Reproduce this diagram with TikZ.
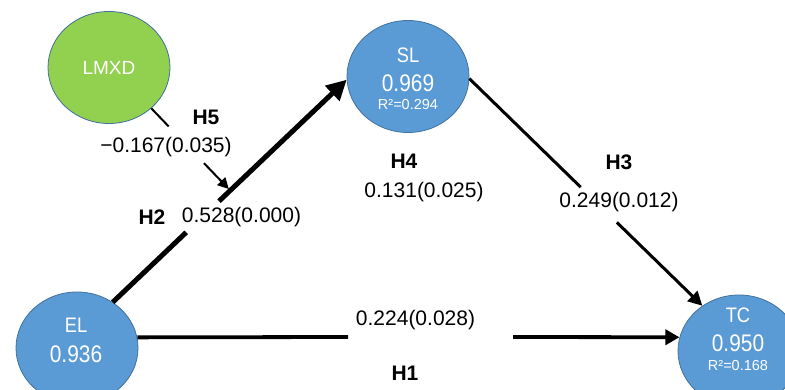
\documentclass[tikz,border=0pt]{standalone}
\usepackage{fontspec}
\setmainfont{Liberation Sans}
\newfontfamily\circfont[FakeStretch=0.87]{Liberation Sans}
\usetikzlibrary{arrows.meta,calc,shapes.geometric}
\definecolor{nodeblue}{HTML}{5B9BD5}
\definecolor{nodegreen}{HTML}{92D050}
\definecolor{rimblue}{HTML}{41719C}

\begin{document}
\begin{tikzpicture}[x=1pt,y=-1pt,
  construct/.style={ellipse, draw=rimblue, line width=0.8pt, fill=nodeblue,
    minimum width=122pt, minimum height=112pt, inner sep=0pt},
  cname/.style={anchor=base, text=white, inner sep=0pt,
    font=\circfont\fontsize{21}{24}\selectfont},
  cval/.style={anchor=base, text=white, inner sep=0pt,
    font=\circfont\fontsize{24}{28}\selectfont},
  rsq/.style={anchor=base, text=white, inner sep=0pt,
    font=\fontsize{14.5}{17}\selectfont},
  hyp/.style={anchor=base, inner sep=0pt, font=\bfseries\fontsize{21}{25}\selectfont},
  coef/.style={anchor=base, inner sep=0pt, font=\fontsize{21}{25}\selectfont},
  pathH2/.style={line width=5pt},
  pathH1/.style={line width=3.8pt},
  pathH3/.style={line width=3pt},
  pathH5/.style={line width=2pt},
]
\useasboundingbox (0,0) rectangle (785,390);

% constructs
\node[construct, fill=nodegreen] (LMXD) at (109,67.5) {};
\node[construct] (SL) at (408,76.5) {};
\node[construct] (EL) at (77,348) {};
\node[construct] (TC) at (739,351) {};

% texts inside the constructs
\node[cname, font=\fontsize{19}{22}\selectfont] (tLMXD) at (109,75) {LMXD};
\node[cname] (tSL) at (408,63) {SL};
\node[cval] (vSL) at (408,92) {0.969};
\node[rsq] (rSL) at (408,110) {R²=0.294};
\node[cname] (tEL) at (76,333) {EL};
\node[cval] (vEL) at (76,362) {0.936};
\node[cname] (tTC) at (738,323) {TC};
\node[cval] (vTC) at (738,352) {0.950};
\node[rsq] (rTC) at (738,370) {R²=0.168};

% gap points of the interrupted paths
\coordinate (h2a) at ($(EL.52)!0.314!(SL.183)$);
\coordinate (h2b) at ($(EL.52)!0.454!(SL.183)$);
\coordinate (h5tip) at ($(EL.52)!0.502!(SL.183)$);
\coordinate (h5a) at ($(LMXD.-44)!0.22!(h5tip)$);
\coordinate (h5b) at ($(LMXD.-44)!0.667!(h5tip)$);
\coordinate (h3a) at ($(SL.-2)!0.478!(TC.129)$);
\coordinate (h3b) at ($(SL.-2)!0.633!(TC.129)$);
\coordinate (h1a) at (348,337);
\coordinate (h1b) at (513,337);

% H2: EL -> SL
\draw[pathH2] (EL.52) -- (h2a);
\draw[pathH2, -{Triangle[length=20pt,width=20pt]}] (h2b) -- (SL.183);
% H3: SL -> TC
\draw[pathH3] (SL.-2) -- (h3a);
\draw[pathH3, -{Triangle[length=14pt,width=14pt]}] (h3b) -- (TC.129);
% H1: EL -> TC
\draw[pathH1] (EL.10) -- (h1a);
\draw[pathH1, -{Triangle[length=14pt,width=15pt]}] (h1b) -- (TC.167);
% H5: moderation of H2 by LMXD
\draw[pathH5] (LMXD.-44) -- (h5a);
\draw[pathH5, -{Triangle[length=11pt,width=11pt]}, shorten >=2pt] (h5b) -- (h5tip);

% hypothesis labels and coefficients
\node[hyp] (lH5) at (206,125) {H5};
\node[coef] (cH5) at (166,153) {−0.167(0.035)};
\node[hyp] (lH2) at (152,225) {H2};
\node[coef] (cH2) at (241.5,222.5) {0.528(0.000)};
\node[hyp] (lH4) at (404,169) {H4};
\node[coef] (cH4) at (424,198) {0.131(0.025)};
\node[hyp] (lH3) at (619,170) {H3};
\node[coef] (cH3) at (619,208) {0.249(0.012)};
\node[coef] (cH1) at (415.5,325) {0.224(0.028)};
\node[hyp] (lH1) at (405,380) {H1};
\end{tikzpicture}
\end{document}
